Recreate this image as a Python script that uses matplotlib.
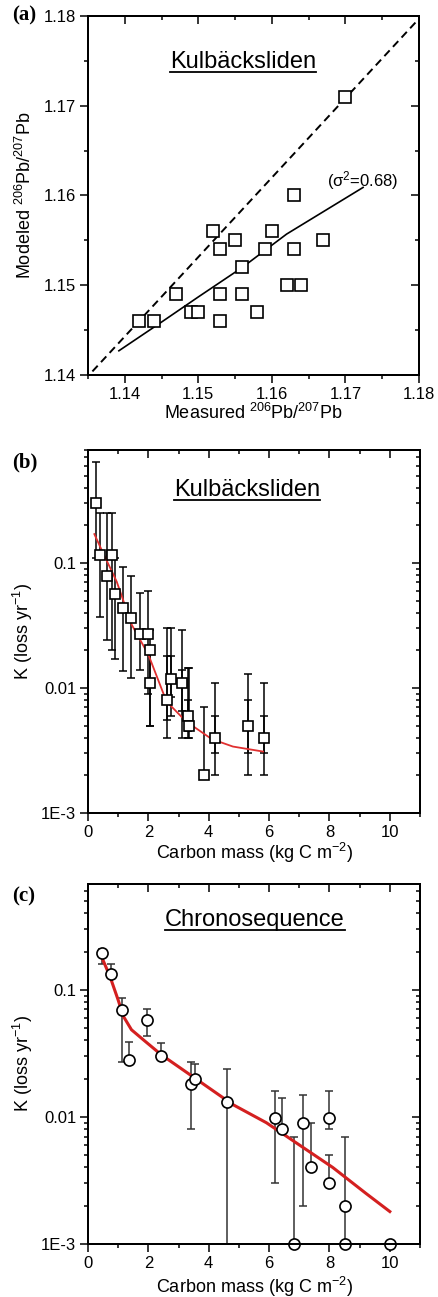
import matplotlib
matplotlib.use('Agg')
import matplotlib.pyplot as plt
import numpy as np
from matplotlib.ticker import MultipleLocator, FormatStrFormatter, FixedLocator, FixedFormatter, LogLocator, NullFormatter
from matplotlib.lines import Line2D

plt.rcParams['font.family'] = ['Liberation Sans', 'DejaVu Sans']
plt.rcParams['mathtext.fontset'] = 'custom'
plt.rcParams['mathtext.rm'] = 'Liberation Sans'
plt.rcParams['mathtext.it'] = 'Liberation Sans:italic'
plt.rcParams['mathtext.bf'] = 'Liberation Sans:bold'

# ---------------- panel (a): modeled vs measured Pb ratio ----------------
meas_a = [1.142, 1.144, 1.147, 1.149, 1.150, 1.152, 1.153, 1.153, 1.153, 1.155, 1.156,
          1.156, 1.158, 1.159, 1.160, 1.162, 1.163, 1.163, 1.164, 1.167, 1.170]
mod_a = [1.146, 1.146, 1.149, 1.147, 1.147, 1.156, 1.154, 1.149, 1.146, 1.155, 1.152,
         1.149, 1.147, 1.154, 1.156, 1.150, 1.154, 1.160, 1.150, 1.155, 1.171]
fit_a_x = [1.1392, 1.145, 1.150, 1.156, 1.162, 1.1724]
fit_a_y = [1.1427, 1.1459, 1.1487, 1.1520, 1.1557, 1.1609]
dash_a_x = [1.1356, 1.180]
dash_a_y = [1.1404, 1.1797]

# ---------------- panel (b): Kulbacksliden K vs carbon mass ----------------
cm_b = [0.25, 0.40, 0.62, 0.78, 0.89, 1.15, 1.42, 1.72, 1.98, 2.05, 2.05, 2.62, 2.75,
        3.12, 3.32, 3.35, 3.83, 4.22, 5.30, 5.82]
k_b = [0.30, 0.115, 0.078, 0.116, 0.056, 0.044, 0.036, 0.027, 0.027, 0.020, 0.011, 0.008,
       0.0117, 0.011, 0.006, 0.005, 0.002, 0.004, 0.005, 0.004]
k_b_lo = [0.11, 0.037, 0.024, 0.020, 0.017, 0.0137, 0.012, 0.0138, 0.009, 0.005, 0.005,
          0.004, 0.006, 0.004, 0.004, 0.004, 0.002, 0.002, 0.002, 0.002]
k_b_hi = [0.64, 0.25, 0.25, 0.25, 0.11, 0.093, 0.078, 0.058, 0.060, 0.029, 0.020, 0.030,
          0.030, 0.029, 0.0145, 0.0145, 0.007, 0.011, 0.013, 0.011]
# inner error bars (second error estimate)
cm_b_in = [2.62, 2.75, 3.12, 3.32, 4.22, 5.30, 5.82]
k_b_in = [0.008, 0.0117, 0.011, 0.006, 0.004, 0.005, 0.004]
k_b_in_lo = [0.0055, 0.0085, 0.0065, 0.0045, 0.003, 0.003, 0.003]
k_b_in_hi = [0.018, 0.018, 0.014, 0.008, 0.006, 0.008, 0.006]
fit_b_x = [0.21, 0.50, 0.95, 1.45, 2.00, 2.60, 3.25, 4.10, 4.80, 5.80]
fit_b_y = [0.17, 0.12, 0.071, 0.032, 0.0185, 0.0078, 0.0054, 0.0039, 0.0034, 0.0031]

# ---------------- panel (c): chronosequence ----------------
cm_c = [0.45, 0.76, 1.13, 1.36, 1.94, 2.43, 3.42, 3.56, 4.62, 6.21, 6.42, 6.81, 7.14,
        7.40, 8.00, 8.00, 8.53, 8.53, 10.0]
k_c = [0.196, 0.134, 0.069, 0.028, 0.058, 0.030, 0.018, 0.020, 0.013, 0.0098, 0.008,
       0.001, 0.009, 0.004, 0.0098, 0.003, 0.002, 0.001, 0.001]
k_c_lo = [0.16, 0.134, 0.027, 0.028, 0.043, 0.030, 0.008, 0.020, 0.001, 0.003, 0.008,
          0.001, 0.002, 0.004, 0.008, 0.003, 0.001, 0.001, 0.001]
k_c_hi = [0.21, 0.16, 0.086, 0.039, 0.071, 0.038, 0.027, 0.026, 0.024, 0.016, 0.014,
          0.007, 0.015, 0.009, 0.016, 0.005, 0.007, 0.001, 0.001]
fit_c_x = [0.40, 0.73, 1.00, 1.17, 1.44, 1.83, 2.43, 2.99, 3.54, 4.80, 5.91, 7.01, 8.11, 9.21, 10.0]
fit_c_y = [0.194, 0.127, 0.083, 0.062, 0.0485, 0.0405, 0.0308, 0.0249, 0.0202, 0.0125,
           0.0090, 0.0060, 0.0040, 0.0025, 0.0018]

log_ticks = [1e-3, 1e-2, 1e-1]
log_labels = ['1E-3', '0.01', '0.1']

W, H = 438, 1297
fig = plt.figure(figsize=(W / 100, H / 100), dpi=100)


def box(l, t, r, b):
    return [l / W, 1 - b / H, (r - l) / W, (b - t) / H]


def mirror_ticks(ax, log=False):
    # top/right ticks point inward, left/bottom outward (Origin style)
    tx = ax.twiny()
    tx.set_xlim(ax.get_xlim())
    tx.xaxis.set_major_locator(ax.xaxis.get_major_locator())
    tx.xaxis.set_minor_locator(ax.xaxis.get_minor_locator())
    tx.tick_params(axis='x', which='both', direction='in', labeltop=False, width=1.1)
    tx.tick_params(axis='x', which='major', length=6)
    tx.tick_params(axis='x', which='minor', length=3)
    ty = ax.twinx()
    if log:
        ty.set_yscale('log')
    ty.set_ylim(ax.get_ylim())
    ty.yaxis.set_major_locator(FixedLocator(list(ax.get_yticks())))
    if log:
        ty.yaxis.set_minor_locator(LogLocator(base=10, subs=np.arange(2, 10)))
        ty.yaxis.set_minor_formatter(NullFormatter())
    else:
        ty.yaxis.set_minor_locator(ax.yaxis.get_minor_locator())
    ty.tick_params(axis='y', which='both', direction='in', labelright=False, width=1.1)
    ty.tick_params(axis='y', which='major', length=6)
    ty.tick_params(axis='y', which='minor', length=3)
    for a in (tx, ty):
        for s in a.spines.values():
            s.set_linewidth(1.3)


def style(ax):
    for s in ax.spines.values():
        s.set_linewidth(1.3)
    ax.tick_params(which='both', direction='out', labelsize=12, width=1.1)
    ax.tick_params(which='major', length=6, pad=2.5)
    ax.tick_params(which='minor', length=3)


# ---- (a)
ax1 = fig.add_axes(box(88, 16, 419, 375))
ax1.plot(dash_a_x, dash_a_y, color='black', lw=1.4, ls=(0, (4, 2.5)))
ax1.plot(fit_a_x, fit_a_y, color='black', lw=1.2)
ax1.plot(meas_a, mod_a, ls='none', marker='s', ms=8, mfc='white', mec='black', mew=1.2)
ax1.set_xlim(1.135, 1.18)
ax1.set_ylim(1.14, 1.18)
ax1.xaxis.set_major_locator(FixedLocator([1.14, 1.15, 1.16, 1.17, 1.18]))
ax1.xaxis.set_minor_locator(FixedLocator([1.135, 1.145, 1.155, 1.165, 1.175]))
ax1.yaxis.set_major_locator(FixedLocator([1.14, 1.15, 1.16, 1.17, 1.18]))
ax1.yaxis.set_minor_locator(FixedLocator([1.145, 1.155, 1.165, 1.175]))
ax1.xaxis.set_major_formatter(FormatStrFormatter('%.2f'))
ax1.yaxis.set_major_formatter(FormatStrFormatter('%.2f'))
style(ax1)
ax1.set_xlabel('Measured $^{206}$Pb/$^{207}$Pb', fontsize=13)
ax1.set_ylabel('Modeled $^{206}$Pb/$^{207}$Pb', fontsize=13)
ax1.xaxis.set_label_coords(0.5, -0.078)
ax1.yaxis.set_label_coords(-0.16, 0.5)
ax1.text(1.1723, 1.1617, '(σ$^2$=0.68)', fontsize=12, ha='center', va='center')
t1 = ax1.text(0.468, 0.872, 'Kulbäcksliden', transform=ax1.transAxes, fontsize=17,
              ha='center', va='center')
mirror_ticks(ax1)


def log_axis(ax, ytop):
    ax.set_yscale('log')
    ax.set_xlim(0, 11)
    ax.set_ylim(1e-3, ytop)
    ax.xaxis.set_major_locator(MultipleLocator(2))
    ax.xaxis.set_minor_locator(MultipleLocator(1))
    ax.yaxis.set_major_locator(FixedLocator(log_ticks))
    ax.yaxis.set_major_formatter(FixedFormatter(log_labels))
    ax.yaxis.set_minor_locator(LogLocator(base=10, subs=np.arange(2, 10)))
    ax.yaxis.set_minor_formatter(NullFormatter())
    style(ax)
    ax.set_xlabel('Carbon mass (kg C m$^{-2}$)', fontsize=13)
    ax.set_ylabel('K (loss yr$^{-1}$)', fontsize=13)
    ax.yaxis.set_label_coords(-0.16, 0.5)


# ---- (b)
ax2 = fig.add_axes(box(88, 450, 420, 813))
kb = np.array(k_b)
ax2.errorbar(cm_b, kb, yerr=[kb - np.array(k_b_lo), np.array(k_b_hi) - kb], fmt='none',
             ecolor='black', elinewidth=1.1, capsize=3, capthick=1.1, zorder=2)
kbi = np.array(k_b_in)
ax2.errorbar(cm_b_in, kbi, yerr=[kbi - np.array(k_b_in_lo), np.array(k_b_in_hi) - kbi], fmt='none',
             ecolor='black', elinewidth=1.1, capsize=3, capthick=1.1, zorder=2)
ax2.plot(fit_b_x, fit_b_y, color='#e03030', lw=1.3, zorder=3)
ax2.plot(cm_b, k_b, ls='none', marker='s', ms=7.5, mfc='white', mec='black', mew=1.2, zorder=4)
log_axis(ax2, 0.8)
ax2.xaxis.set_label_coords(0.5, -0.078)
t2 = ax2.text(0.478, 0.89, 'Kulbäcksliden', transform=ax2.transAxes, fontsize=17,
              ha='center', va='center')
mirror_ticks(ax2, log=True)

# ---- (c)
ax3 = fig.add_axes(box(88, 884, 420, 1244))
kc = np.array(k_c)
ax3.errorbar(cm_c, kc, yerr=[kc - np.array(k_c_lo), np.array(k_c_hi) - kc], fmt='none',
             ecolor='#333333', elinewidth=1.1, capsize=3, capthick=1.1, zorder=2)
ax3.plot(fit_c_x, fit_c_y, color='#d42020', lw=2.2, zorder=3)
ax3.plot(cm_c, k_c, ls='none', marker='o', ms=8, mfc='white', mec='black', mew=1.2,
         zorder=4, clip_on=False)
log_axis(ax3, 0.68)
ax3.xaxis.set_label_coords(0.5, -0.086)
t3 = ax3.text(0.503, 0.90, 'Chronosequence', transform=ax3.transAxes, fontsize=17,
              ha='center', va='center')
mirror_ticks(ax3, log=True)

# panel letters
for ylab, lab in [(15, '(a)'), (462, '(b)'), (896, '(c)')]:
    fig.text(12 / W, 1 - ylab / H, lab, fontsize=15, fontweight='bold',
             family='Liberation Serif', ha='left', va='center')

# underline the site titles
fig.canvas.draw()
inv = fig.transFigure.inverted()
for t in (t1, t2, t3):
    bb = t.get_window_extent()
    (x0, y0), (x1, y1) = inv.transform([[bb.x0, bb.y0], [bb.x1, bb.y1]])
    fig.add_artist(Line2D([x0, x1], [y0 + 0.0005, y0 + 0.0005], transform=fig.transFigure,
                          color='black', lw=1.3))

fig.savefig('out.png', dpi=100)
